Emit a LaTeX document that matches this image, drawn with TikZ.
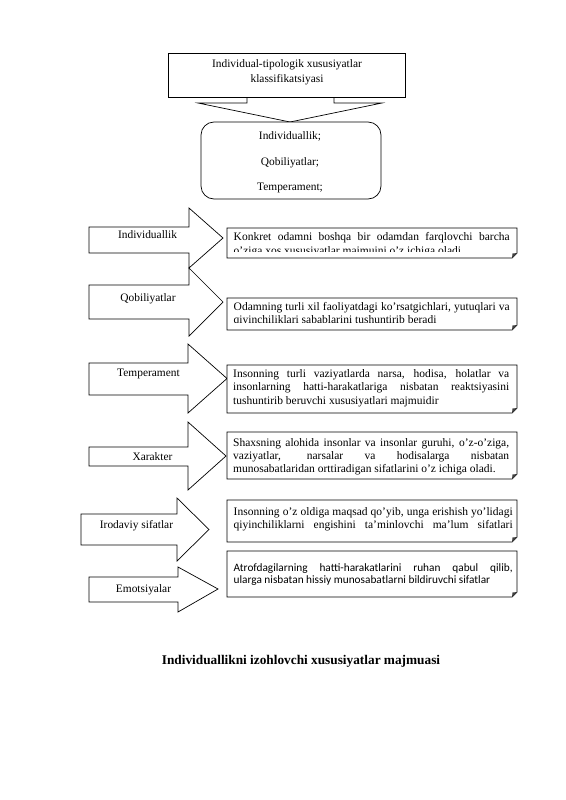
\documentclass[tikz,border=0pt]{standalone}
\usepackage{fontspec}
\setmainfont{Liberation Serif}
\newfontfamily\calfont{Carlito}
\newcommand\lblfont{\fontsize{11.4}{13}\selectfont}
\newcommand\txtfont{\fontsize{11.5}{13.5}\selectfont}
\newcommand\calbfont{\calfont\fontsize{11.3}{12.5}\selectfont}
\newcommand\capfont{\fontsize{13.3}{15}\selectfont\bfseries}
\newcommand\jl[2]{\makebox[#1][s]{#2}}
\newcommand\barrow[8]{\draw[shp] (#1,#4) -- (#2,#4) -- (#2,#6) -- (#3,#8) -- (#2,#7) -- (#2,#5) -- (#1,#5) -- cycle;}
\newcommand\foldbox[4]{%
  \draw[shp] (#1,#2) -- (#3,#2) -- (#3,#4-5) -- (#3-5,#4) -- (#1,#4) -- cycle;
  \fill[black!75] (#3-5,#4) -- (#3,#4-5) -- (#3-4.5,#4-4.5) -- cycle;}
\tikzset{
  shp/.style={draw=black, line width=0.7pt, fill=white, line join=miter},
  lbl/.style={font=\lblfont, inner sep=0pt, anchor=base},
  txt/.style={font=\txtfont, inner sep=0pt, anchor=base west},
  ctxt/.style={font=\calbfont, inner sep=0pt, anchor=base west},
}
\begin{document}
\begin{tikzpicture}[x=1pt,y=-1pt]
\useasboundingbox[fill=white] (0,0) rectangle (565,800);

% top box and down arrow
\draw[shp] (247,96.5) -- (247,103) -- (198,103) -- (290,122) -- (382,103) -- (334,103) -- (334,96.5);
\draw[shp] (168,53) rectangle (405,97);
\node[lbl] (t1) at (287,67.5) {Individual-tipologik xususiyatlar};
\node[lbl] (t2) at (287,82.5) {klassifikatsiyasi};

% rounded box
\draw[shp, rounded corners=13pt] (201,122) rectangle (381,199);
\node[lbl] (r1) at (290,139.5) {Individuallik;};
\node[lbl] (r2) at (290,165) {Qobiliyatlar;};
\node[lbl] (r3) at (290,190) {Temperament;};

% block arrows
\barrow{89}{189}{223}{227}{253}{208}{268}{238}
\barrow{89}{189}{223}{285}{319}{268}{336}{302}
\barrow{89}{188}{227}{363}{395}{344}{413}{378.5}
\barrow{89}{188}{226}{447}{466}{422}{490}{456}
\barrow{81}{177}{209}{514}{545}{498}{561}{529.5}
\barrow{89}{178}{218}{577}{602}{567}{612}{589}
\node[lbl] (a1) at (147.5,238) {Individuallik};
\node[lbl] (a2) at (148,301) {Qobiliyatlar};
\node[lbl] (a3) at (148.5,376.5) {Temperament};
\node[lbl] (a4) at (152.5,460) {Xarakter};
\node[lbl] (a5) at (136.5,528.5) {Irodaviy sifatlar};
\node[lbl] (a6) at (143.5,592.5) {Emotsiyalar};

% description boxes
\foldbox{227}{228}{517}{258}
\begin{scope}
\clip (227,228) rectangle (517,251.5);
\node[txt] (b1a) at (233.5,240) {\jl{276pt}{Konkret odamni boshqa bir odamdan farqlovchi barcha}};
\node[txt] (b1b) at (233.5,254) {o’ziga xos xususiyatlar majmuini o’z ichiga oladi};
\end{scope}

\foldbox{227}{298}{517}{330}
\begin{scope}
\clip (227,298) rectangle (517,322);
\node[txt] (b2a) at (233.5,310) {\jl{276pt}{Odamning turli xil faoliyatdagi ko’rsatgichlari, yutuqlari va}};
\node[txt] (b2b) at (233.5,323.5) {qiyinchiliklari sabablarini tushuntirib beradi};
\end{scope}

\foldbox{227}{365}{517}{413}
\node[txt] (b3a) at (233,377) {\jl{276pt}{Insonning turli vaziyatlarda narsa, hodisa, holatlar va}};
\node[txt] (b3b) at (233,390.5) {\jl{276pt}{insonlarning hatti-harakatlariga nisbatan reaktsiyasini}};
\node[txt] (b3c) at (233,404) {tushuntirib beruvchi xususiyatlari majmuidir};

\foldbox{227}{432}{517}{479}
\begin{scope}
\clip (227,432) rectangle (517,474);
\node[txt] (b4a) at (233,446) {\jl{276pt}{Shaxsning alohida insonlar va insonlar guruhi, o’z-o’ziga,}};
\node[txt] (b4b) at (233,459) {\jl{276pt}{vaziyatlar, narsalar va hodisalarga nisbatan}};
\node[txt] (b4c) at (233,472.5) {munosabatlaridan orttiradigan sifatlarini o’z ichiga oladi.};
\end{scope}

\foldbox{227}{500}{517}{542}
\begin{scope}
\clip (227,500) rectangle (517,534);
\node[txt] (b5a) at (233.5,515) {\jl{279pt}{Insonning o’z oldiga maqsad qo’yib, unga erishish yo’lidagi}};
\node[txt] (b5b) at (233.5,528) {\jl{279pt}{qiyinchiliklarni engishini ta’minlovchi ma’lum sifatlari}};
\end{scope}

\foldbox{227}{551}{517}{597}
\node[ctxt] (b6a) at (233.5,571) {\jl{279pt}{Atrofdagilarning hatti-harakatlarini ruhan qabul qilib,}};
\node[ctxt] (b6b) at (233.5,583.5) {ularga nisbatan hissiy munosabatlarni bildiruvchi sifatlar};

% caption
\node[font=\capfont, inner sep=0pt, anchor=base] (cap) at (301,664) {Individuallikni izohlovchi xususiyatlar majmuasi};
\end{tikzpicture}
\end{document}
